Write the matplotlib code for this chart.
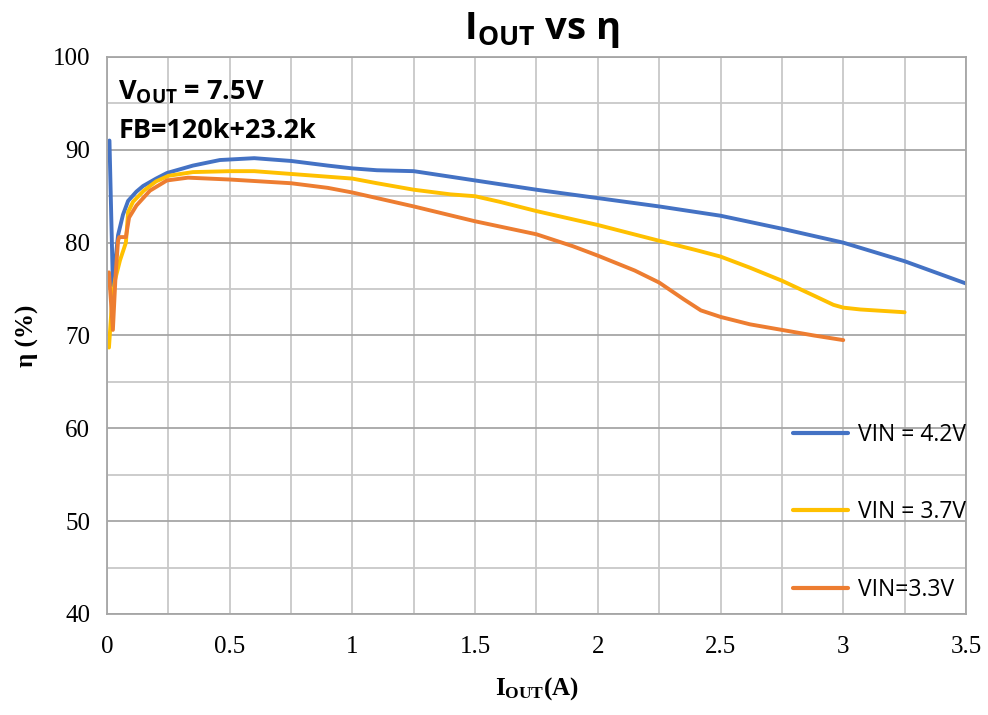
import numpy as np
import matplotlib
matplotlib.use("Agg")
import matplotlib.pyplot as plt
from matplotlib.ticker import MultipleLocator

# Data
x_42 = [0.01, 0.024, 0.045, 0.065, 0.086, 0.12, 0.147, 0.2, 0.244, 0.35, 0.46, 0.6, 0.75, 0.9,
        1.0, 1.1, 1.25, 1.4, 1.5, 1.75, 2.0, 2.25, 2.5, 2.75, 3.0, 3.25, 3.5]
y_42 = [91.0, 75.4, 80.8, 83.0, 84.5, 85.5, 86.1, 86.9, 87.5, 88.3, 88.9, 89.1, 88.8, 88.3,
        88.0, 87.8, 87.7, 87.1, 86.7, 85.7, 84.8, 83.9, 82.9, 81.5, 80.0, 78.0, 75.6]

x_37 = [0.008, 0.02, 0.033, 0.053, 0.077, 0.086, 0.106, 0.15, 0.2, 0.25, 0.35, 0.5, 0.6, 0.75,
        0.9, 1.0, 1.1, 1.25, 1.4, 1.5, 1.6, 1.75, 2.0, 2.25, 2.4, 2.5, 2.62, 2.75, 2.88, 2.96,
        3.0, 3.07, 3.25]
y_37 = [68.7, 73.5, 76.0, 78.1, 80.0, 83.3, 84.4, 85.6, 86.6, 87.2, 87.6, 87.7, 87.7, 87.4,
        87.1, 86.9, 86.4, 85.7, 85.2, 85.0, 84.4, 83.4, 81.9, 80.2, 79.2, 78.5, 77.3, 75.9, 74.3,
        73.3, 73.0, 72.8, 72.5]

x_33 = [0.008, 0.024, 0.035, 0.045, 0.05, 0.077, 0.09, 0.12, 0.175, 0.244, 0.33, 0.5, 0.75,
        0.9, 1.0, 1.25, 1.5, 1.75, 1.9, 2.0, 2.15, 2.25, 2.35, 2.42, 2.5, 2.62, 2.75, 2.88,
        3.0]
y_33 = [76.8, 70.6, 76.5, 80.2, 80.6, 80.6, 82.7, 84.0, 85.6, 86.7, 87.0, 86.8, 86.4,
        85.9, 85.4, 83.9, 82.3, 80.9, 79.6, 78.6, 77.0, 75.7, 73.9, 72.7, 72.0, 71.2, 70.6, 70.0,
        69.5]

labels = ["VIN = 4.2V", "VIN = 3.7V", "VIN=3.3V"]
colors = ["#4472C4", "#FFC000", "#ED7D31"]

fig = plt.figure(figsize=(9.88, 7.15), dpi=100)
ax = fig.add_axes([0.1083, 0.1413, 0.8694, 0.779])

for xs, ys, lab, c in zip([x_42, x_37, x_33], [y_42, y_37, y_33], labels, colors):
    ax.plot(xs, ys, color=c, lw=2.8, label=lab, solid_joinstyle="round", solid_capstyle="round")

ax.set_xlim(0, 3.5)
ax.set_ylim(40, 100)
ax.xaxis.set_major_locator(MultipleLocator(0.5))
ax.xaxis.set_minor_locator(MultipleLocator(0.25))
ax.yaxis.set_major_locator(MultipleLocator(10))
ax.yaxis.set_minor_locator(MultipleLocator(5))
ax.xaxis.set_major_formatter(plt.FuncFormatter(lambda v, p: f"{v:g}"))

ax.grid(which="major", axis="y", color="#a6a6a6", lw=1.3)
ax.grid(which="minor", axis="y", color="#c8c8c8", lw=1.3)
ax.grid(which="both", axis="x", color="#c8c8c8", lw=1.3)
ax.set_axisbelow(True)
for s in ax.spines.values():
    s.set_color("#a6a6a6")
    s.set_linewidth(1.3)

ax.tick_params(which="both", length=0)
ax.tick_params(axis="x", pad=16)
ax.tick_params(axis="y", pad=12)
for t in ax.get_xticklabels() + ax.get_yticklabels():
    t.set_fontfamily("Liberation Serif")
    t.set_fontsize(18)

ax.set_xlabel(r"$\mathregular{I_{OUT}}$(A)", family="Liberation Serif", fontweight="bold",
              fontsize=18, labelpad=12)
ax.set_ylabel("η (%)", family="Liberation Serif", fontweight="bold", fontsize=18, labelpad=10)

fig.text(0.548, 0.958, r"$\mathregular{I_{OUT}}$ vs η", ha="center", va="center",
         family=["Open Sans", "DejaVu Sans"], fontweight="bold", fontsize=27.5)

ax.text(0.013, 0.937, r"$\mathregular{V_{OUT}}$ = 7.5V", transform=ax.transAxes,
        family=["Open Sans", "DejaVu Sans"], fontweight="bold", fontsize=19.5, va="center")
ax.text(0.013, 0.868, "FB=120k+23.2k", transform=ax.transAxes,
        family=["Open Sans", "DejaVu Sans"], fontweight="bold", fontsize=19.5, va="center")

leg = ax.legend(loc="lower right", bbox_to_anchor=(1.024, -0.016), frameon=False,
                prop={"family": "Open Sans", "size": 16.5}, labelspacing=2.35,
                handlelength=2.4, handletextpad=0.45)
for line in leg.get_lines():
    line.set_linewidth(3)

fig.savefig("out.png", dpi=100)
